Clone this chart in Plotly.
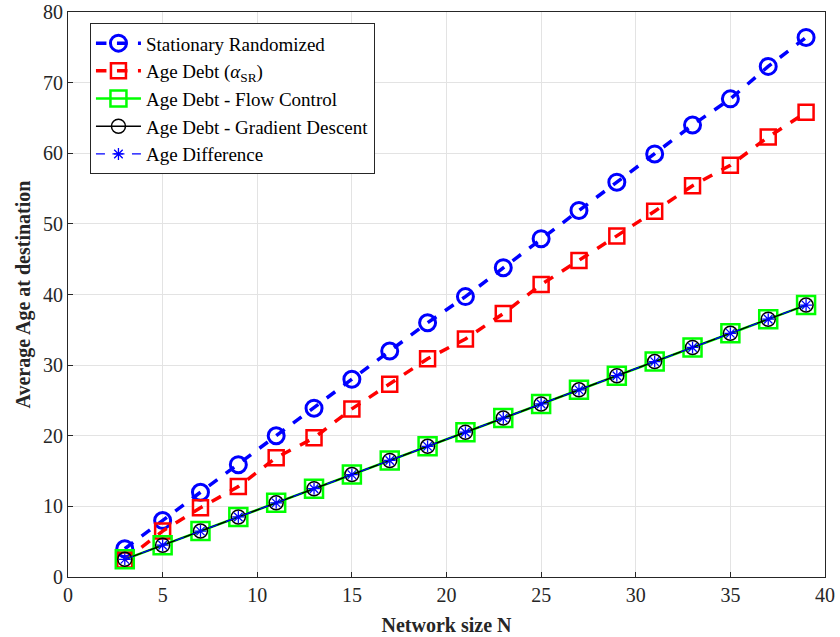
import plotly.graph_objects as go

# Network sizes
network_size = [3, 5, 7, 9, 11, 13, 15, 17, 19, 21, 23, 25, 27, 29, 31, 33, 35, 37, 39]

# Average age at destination for each policy
stationary_randomized = [4.0, 8.0, 12.0, 15.9, 20.0, 23.9, 28.0, 32.0, 36.0, 39.7, 43.8, 47.9,
                         51.9, 55.9, 59.9, 64.0, 67.7, 72.3, 76.4]
age_debt_sr = [2.4, 6.5, 9.8, 12.8, 16.9, 19.7, 23.8, 27.3, 30.9, 33.7, 37.3, 41.4,
               44.8, 48.3, 51.8, 55.4, 58.3, 62.3, 65.8]
age_debt_flow = [2.5, 4.5, 6.5, 8.5, 10.5, 12.5, 14.5, 16.5, 18.5, 20.5, 22.5, 24.5,
                 26.5, 28.5, 30.5, 32.5, 34.5, 36.5, 38.5]
age_debt_gd = [2.5, 4.5, 6.5, 8.5, 10.5, 12.5, 14.5, 16.5, 18.5, 20.5, 22.5, 24.5,
               26.5, 28.5, 30.5, 32.5, 34.5, 36.5, 38.5]
age_difference = [2.5, 4.5, 6.5, 8.5, 10.5, 12.5, 14.5, 16.5, 18.5, 20.5, 22.5, 24.5,
                  26.5, 28.5, 30.5, 32.5, 34.5, 36.5, 38.5]

x_ticks = [0, 5, 10, 15, 20, 25, 30, 35, 40]
y_ticks = [0, 10, 20, 30, 40, 50, 60, 70, 80]

FONT = "Liberation Serif, Times New Roman, serif"

fig = go.Figure()

fig.add_trace(go.Scatter(
    x=network_size, y=stationary_randomized, mode="lines+markers",
    name="Stationary Randomized",
    line=dict(color="#0000ff", width=3.5, dash="dash"),
    marker=dict(symbol="circle-open", size=16, color="#0000ff", line=dict(width=3, color="#0000ff")),
))
fig.add_trace(go.Scatter(
    x=network_size, y=age_debt_sr, mode="lines+markers",
    name="Age Debt (<i>α</i><sub>SR</sub>)",
    line=dict(color="#ff0000", width=3.5, dash="dash"),
    marker=dict(symbol="square-open", size=15, color="#ff0000", line=dict(width=2.5, color="#ff0000")),
))
fig.add_trace(go.Scatter(
    x=network_size, y=age_debt_flow, mode="lines+markers",
    name="Age Debt - Flow Control",
    line=dict(color="#00ff00", width=2.5),
    marker=dict(symbol="square-open", size=18, color="#00ff00", line=dict(width=2.5, color="#00ff00")),
))
fig.add_trace(go.Scatter(
    x=network_size, y=age_debt_gd, mode="lines+markers",
    name="Age Debt - Gradient Descent",
    line=dict(color="#000000", width=1.5),
    marker=dict(symbol="circle-open", size=14, color="#000000", line=dict(width=1.5, color="#000000")),
))
fig.add_trace(go.Scatter(
    x=network_size, y=age_difference, mode="lines+markers",
    name="Age Difference",
    line=dict(color="#0000ff", width=1.2, dash="dash"),
    marker=dict(symbol="asterisk-open", size=10, color="#0000ff", line=dict(width=1.3, color="#0000ff")),
))

axis_common = dict(
    showgrid=True, gridcolor="#e3e3e3", gridwidth=1,
    showline=True, linecolor="#262626", linewidth=1, mirror=True,
    ticks="inside", ticklen=5, tickcolor="#262626",
    tickfont=dict(family=FONT, size=20, color="#262626"),
    zeroline=False, automargin=False,
)

fig.update_layout(
    width=840, height=637,
    margin=dict(l=68, r=15, t=12, b=60),
    paper_bgcolor="white", plot_bgcolor="white",
    font=dict(family=FONT, color="#262626"),
    xaxis=dict(range=[0, 40], tickvals=x_ticks, **axis_common,
               title=dict(text="<b>Network size N</b>", font=dict(family=FONT, size=20, color="#262626"),
                          standoff=12)),
    yaxis=dict(range=[0, 80], tickvals=y_ticks, **axis_common,
               title=dict(text="<b>Average Age at destination</b>", font=dict(family=FONT, size=20, color="#262626"),
                          standoff=7)),
    legend=dict(
        x=0.029, y=0.98, xanchor="left", yanchor="top",
        bgcolor="white", bordercolor="#262626", borderwidth=1,
        font=dict(family=FONT, size=19, color="#000000"),
        itemwidth=45, tracegroupgap=0,
    ),
    showlegend=True,
)

fig.write_html("out.html")
